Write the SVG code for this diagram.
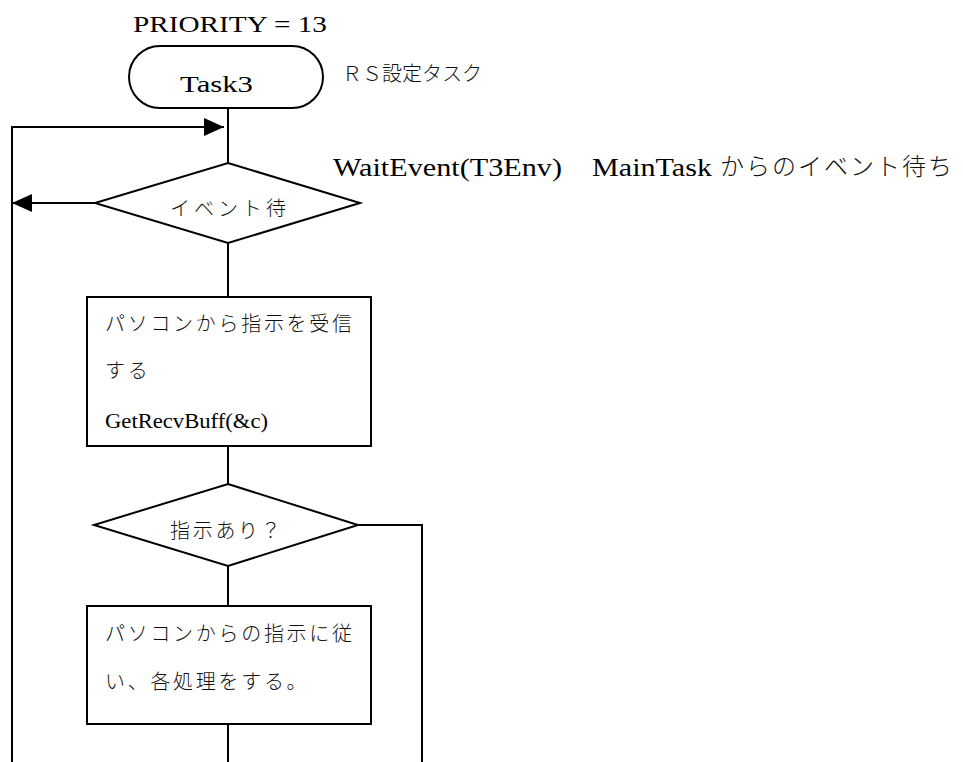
<svg xmlns="http://www.w3.org/2000/svg" width="963" height="762" viewBox="0 0 963 762">
<style>
.shape{fill:#fff;stroke:#000;stroke-width:2}
.line{fill:none;stroke:#000;stroke-width:2}
.lat{font-family:"Liberation Serif","Times New Roman",serif;fill:#000}
.jp{font-family:"Noto Sans CJK JP","Noto Sans CJK SC",sans-serif;font-weight:300;fill:#111}
</style>
<defs>
<marker id="ah" viewBox="0 0 20 18" refX="20" refY="9" markerWidth="20" markerHeight="18" markerUnits="userSpaceOnUse" orient="auto">
<path d="M0,0 L20,9 L0,18 Z" fill="#000"/>
</marker>
</defs>
<rect width="963" height="762" fill="#fff"/>
<g id="connectors">
<line class="line" x1="228" y1="108" x2="228" y2="163"/>
<polyline class="line" points="12,762 12,127 224,127" marker-end="url(#ah)"/>
<line class="line" x1="95" y1="203" x2="12" y2="203" marker-end="url(#ah)"/>
<line class="line" x1="228" y1="243" x2="228" y2="297"/>
<line class="line" x1="228" y1="446" x2="228" y2="484"/>
<polyline class="line" points="358,525 422,525 422,762"/>
<line class="line" x1="228" y1="566" x2="228" y2="606"/>
<line class="line" x1="228" y1="724" x2="228" y2="762"/>
</g>
<g id="priority">
<text class="lat" x="133" y="32" font-size="24" textLength="194" lengthAdjust="spacingAndGlyphs">PRIORITY = 13</text>
</g>
<g id="task3">
<rect class="shape" x="129" y="46" width="194" height="62" rx="31" ry="31"/>
<text class="lat" x="180" y="92" font-size="24" textLength="73" lengthAdjust="spacingAndGlyphs">Task3</text>
</g>
<g id="rs-label">
<text class="jp" x="342" y="81" font-size="20">ＲＳ設定タスク</text>
</g>
<g id="wait-label">
<text class="lat" x="333" y="176" font-size="25" textLength="229" lengthAdjust="spacingAndGlyphs">WaitEvent(T3Env)</text>
<text class="lat" x="592" y="176" font-size="25" textLength="120" lengthAdjust="spacingAndGlyphs">MainTask</text>
<text class="jp" x="720" y="175" font-size="24" letter-spacing="2">からのイベント待ち</text>
</g>
<g id="wait-event">
<polygon class="shape" points="228,163 360,203 228,243 95,203"/>
<text class="jp" x="170" y="216" font-size="20" letter-spacing="4">イベント待</text>
</g>
<g id="recv">
<rect class="shape" x="87" y="297" width="284" height="149"/>
<text class="jp" x="105" y="331" font-size="20" letter-spacing="2.7">パソコンから指示を受信</text>
<text class="jp" x="105" y="378" font-size="20" letter-spacing="2.7">する</text>
<text class="lat" x="105" y="428" font-size="20" textLength="163" lengthAdjust="spacingAndGlyphs">GetRecvBuff(&amp;c)</text>
</g>
<g id="has-cmd">
<polygon class="shape" points="228,484 358,525 228,566 94,525"/>
<text class="jp" x="170" y="538" font-size="20" letter-spacing="2.7">指示あり？</text>
</g>
<g id="process">
<rect class="shape" x="87" y="606" width="284" height="118"/>
<text class="jp" x="105" y="641" font-size="20" letter-spacing="2.7">パソコンからの指示に従</text>
<text class="jp" x="105" y="689" font-size="20" letter-spacing="2.7">い、各処理をする。</text>
</g>
</svg>
